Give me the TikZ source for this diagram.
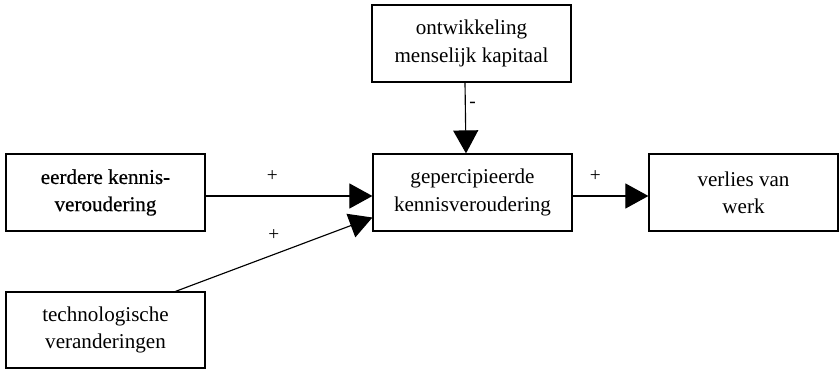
\documentclass[tikz,border=0pt]{standalone}
\usepackage{fontspec}
\setmainfont{Liberation Serif}
\newfontfamily\heavyfont[FakeBold=0.6]{Liberation Serif}
\usepackage{tikz}
\usetikzlibrary{arrows.meta,
                positioning}

\begin{document}
\begin{tikzpicture}[
			x=0.02cm, y=-0.02cm,
			box/.style = {draw, line width=0.7pt, minimum width=3.98cm, minimum height=1.54cm,
				align=center, font=\fontsize{12}{15.5}\selectfont, inner sep=0pt},
			arr/.style = {line width=0.65pt, -{Triangle[length=0.46cm, width=0.5cm]}},
			sign/.style = {font=\fontsize{11}{13}\selectfont, inner sep=2pt},
			]
			\useasboundingbox (0,0) rectangle (839,369);
			% boxes
			\node[box] (kapitaal) at (471.5,43.5) {ontwikkeling\\menselijk kapitaal};
			\node[box] (percept) at (472.5,192.5) {gepercipieerde\\kennisveroudering};
			\node[box, minimum width=3.78cm] (verlies) at (743.5,192.5) {verlies van\\werk};
			\node[box] (eerder) at (105.5,192.5) {\heavyfont eerdere kennis-\\\heavyfont veroudering};
			\node[box, minimum height=1.52cm] (techno) at (105.5,330) {technologische\\veranderingen};
			% edges
			\draw[arr] ([xshift=-0.13cm]kapitaal.south) -- node[sign, pos=0.32, right] {-} ([xshift=-0.13cm]percept.north);
			\draw[arr] ([yshift=-0.07cm]eerder.east) -- node[sign, pos=0.4, above=0.2cm] {+} ([yshift=-0.07cm]percept.west);
			\draw[arr] ([xshift=1.4cm]techno.north) -- node[sign, pos=0.5, above=0.2cm] {+} ([yshift=-0.5cm]percept.west);
			\draw[arr] ([yshift=-0.07cm]percept.east) -- node[sign, pos=0.3, above=0.2cm] {+} ([yshift=-0.07cm]verlies.west);
		\end{tikzpicture}
\end{document}
